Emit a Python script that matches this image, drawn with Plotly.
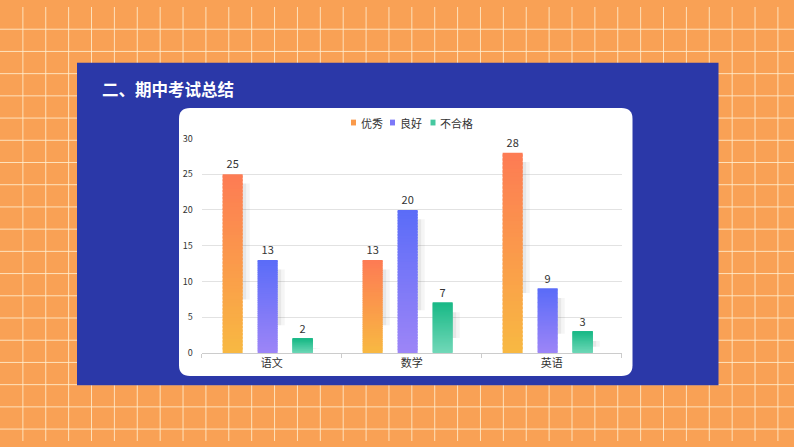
import plotly.graph_objects as go

# ---- data ----
categories = ["语文", "数学", "英语"]
series_names = ["优秀", "良好", "不合格"]
excellent = [25, 13, 28]
good = [13, 20, 9]
fail = [2, 7, 3]
y_ticks = [0, 5, 10, 15, 20, 25, 30]

series_values = [excellent, good, fail]

# ---- style ----
W, H = 794, 447
top_colors = [(253, 123, 84), (90, 108, 248), (26, 185, 135)]
bottom_colors = [(248, 185, 66), (157, 133, 247), (114, 216, 184)]
bar_w = 20 / 140
centers = [-0.25 - 0.029, -0.029, 0.25 - 0.029]
N = 50


def px(x):
    return x / W


def py(y):
    return 1 - y / H


def mix(c0, c1, t):
    return "rgb(%d,%d,%d)" % tuple(round(a * (1 - t) + b * t) for a, b in zip(c0, c1))


fig = go.Figure()

# shadows
for s, vals in enumerate(series_values):
    for shift, alpha in [(7 / 140, 0.05), (3.5 / 140, 0.07)]:
        fig.add_trace(go.Bar(
            x=categories,
            y=[max(v - 1.3, 0) - 0.3 * v for v in vals],
            base=[0.3 * v for v in vals],
            offset=centers[s] - bar_w / 2 + shift, width=bar_w,
            marker=dict(color="rgba(60,60,60,%.2f)" % alpha, line=dict(width=0)),
            hoverinfo="skip", showlegend=False,
        ))

# gradient bars made of stacked slices
for s, vals in enumerate(series_values):
    for i in range(N):
        t = (i + 0.5) / N
        bases = [v * i / N for v in vals]
        heights = [min(v * (i + 1.6) / N, v) - v * i / N for v in vals]
        fig.add_trace(go.Bar(
            x=categories, y=heights, base=bases,
            offset=centers[s] - bar_w / 2, width=bar_w,
            marker=dict(color=mix(bottom_colors[s], top_colors[s], t), line=dict(width=0)),
            hoverinfo="skip", showlegend=False,
        ))

# value labels (transparent full bars)
for s, vals in enumerate(series_values):
    fig.add_trace(go.Bar(
        x=categories, y=vals, name=series_names[s],
        offset=centers[s] - bar_w / 2, width=bar_w,
        marker=dict(color="rgba(0,0,0,0)", line=dict(width=0)),
        text=[str(v) for v in vals], textposition="outside",
        textfont=dict(size=11, color="#333333"), cliponaxis=False,
        showlegend=False,
    ))

shapes = []
# orange grid background
step = 22.88
k = 1
while k * step < W:
    shapes.append(dict(type="line", xref="paper", yref="paper", layer="below",
                       x0=px(k * step), x1=px(k * step), y0=0, y1=1,
                       line=dict(color="rgba(255,236,205,0.85)", width=1)))
    k += 1
k = 1
while k * step < H:
    shapes.append(dict(type="line", xref="paper", yref="paper", layer="below",
                       x0=0, x1=1, y0=py(k * step), y1=py(k * step),
                       line=dict(color="rgba(255,236,205,0.85)", width=1)))
    k += 1

# blue panel
shapes.append(dict(type="rect", xref="paper", yref="paper", layer="below",
                   x0=px(77), x1=px(718.5), y0=py(389.5), y1=py(57.3),
                   fillcolor="#2B38A8", line=dict(width=0)))

# white rounded card
x0, x1, y0, y1, r = 179, 632.5, 104, 380, 11
pts = lambda a, b: "%.5f,%.5f" % (px(a), py(b))
path = ("M " + pts(x0 + r, y0) + " L " + pts(x1 - r, y0) + " Q " + pts(x1, y0) + " " + pts(x1, y0 + r) +
        " L " + pts(x1, y1 - r) + " Q " + pts(x1, y1) + " " + pts(x1 - r, y1) +
        " L " + pts(x0 + r, y1) + " Q " + pts(x0, y1) + " " + pts(x0, y1 - r) +
        " L " + pts(x0, y0 + r) + " Q " + pts(x0, y0) + " " + pts(x0 + r, y0) + " Z")
shapes.append(dict(type="path", xref="paper", yref="paper", layer="below", path=path,
                   fillcolor="#FFFFFF", line=dict(width=0)))

# custom legend
legend_x = [353.5, 392.5, 433]
annotations = []
for s, name in enumerate(series_names):
    lx = legend_x[s]
    shapes.append(dict(type="rect", xref="paper", yref="paper",
                       x0=px(lx - 2.5), x1=px(lx + 2.5), y0=py(122), y1=py(116),
                       fillcolor=mix(bottom_colors[s], top_colors[s], 0.5), line=dict(width=0)))
    annotations.append(dict(text=name, xref="paper", yref="paper", x=px(lx + 5), y=py(119),
                            xanchor="left", yanchor="middle", showarrow=False,
                            font=dict(size=11, color="#333333")))

annotations.append(dict(text="<b>二、期中考试总结</b>", xref="paper", yref="paper",
                        x=px(100), y=py(84), xanchor="left", yanchor="middle", showarrow=False,
                        font=dict(size=16.5, color="#FFFFFF")))

fig.update_layout(
    width=W, height=H,
    margin=dict(l=0, r=0, t=0, b=0),
    paper_bgcolor="#F9A155",
    plot_bgcolor="rgba(0,0,0,0)",
    font=dict(family="Noto Sans CJK SC, Noto Sans, sans-serif", color="#333333"),
    barmode="overlay",
    showlegend=False,
    shapes=shapes,
    annotations=annotations,
    xaxis=dict(domain=[px(201.7), px(621.7)], type="category", range=[-0.5, 2.5],
               showline=True, linecolor="#CCCCCC", linewidth=1,
               ticks="outside", tickson="boundaries", ticklen=4, tickcolor="#CCCCCC",
               tickfont=dict(size=11, color="#333333"), showgrid=False, fixedrange=True),
    yaxis=dict(domain=[py(356.5), py(135.3)], range=[0, 30], tickvals=y_ticks,
               showgrid=True, gridcolor="#E2E2E2", gridwidth=1, zeroline=False,
               tickfont=dict(size=9, color="#333333"), ticklabelstandoff=8,
               showline=False, fixedrange=True),
)

fig.write_html(
    "out.html",
    config={"displayModeBar": False},
    post_script=(
        "document.documentElement.style.margin='0';"
        "document.documentElement.style.padding='0';"
        "document.documentElement.style.overflow='hidden';"
        "document.body.style.margin='0';document.body.style.padding='0';"
        "document.body.style.overflow='hidden';"
        "var d=document.getElementById('{plot_id}');"
        "d.style.position='fixed';d.style.left='0px';d.style.top='0px';"
    ),
)
